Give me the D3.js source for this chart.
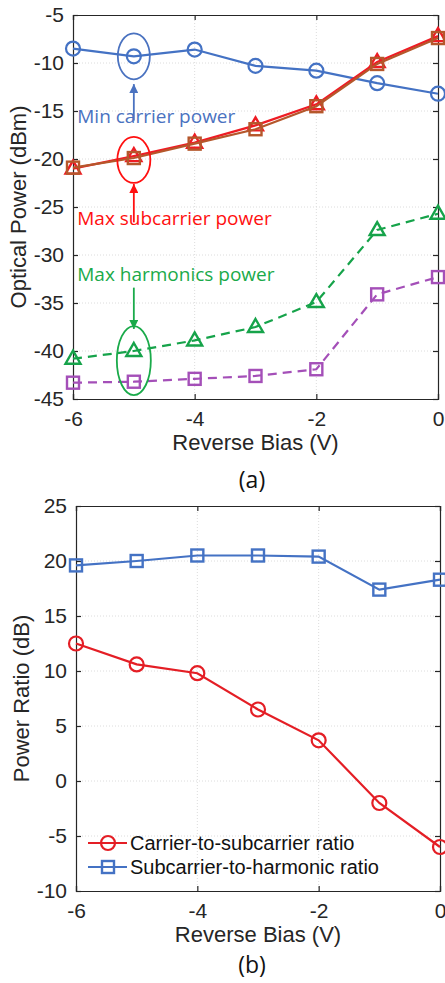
<!DOCTYPE html>
<html>
<head>
<meta charset="utf-8">
<script src="https://cdn.jsdelivr.net/npm/d3@7"></script>
<style>
  body { margin: 0; background: #fff; }
  svg { display: block; }
</style>
</head>
<body>
<div id="chart"></div>
<script>
// bias points, shared by both panels
const bias = [-6, -5, -4, -3, -2, -1, 0];

// panel (a): optical power (dBm)
const minCarrier = [-8.5, -9.3, -8.6, -10.3, -10.8, -12.1, -13.2];
const maxSubTri = [-21.0, -19.7, -18.3, -16.5, -14.3, -9.9, -7.2];
const maxSubSq = [-20.9, -19.9, -18.4, -16.9, -14.5, -10.1, -7.4];
const maxHarm = [-40.8, -40.0, -38.9, -37.5, -34.9, -27.4, -25.7];
const minHarm = [-43.3, -43.2, -42.9, -42.6, -41.9, -34.1, -32.3];

// panel (b): power ratio (dB)
const carrierToSub = [12.5, 10.6, 9.8, 6.5, 3.7, -2.0, -6.0];
const subToHarm = [19.6, 20.0, 20.5, 20.5, 20.4, 17.4, 18.3];

const xTicks = [-6, -4, -2, 0];
const yTicksA = [-45, -40, -35, -30, -25, -20, -15, -10, -5];
const yTicksB = [-10, -5, 0, 5, 10, 15, 20, 25];
const legendNames = ["Carrier-to-subcarrier ratio", "Subcarrier-to-harmonic ratio"];

const W = 445, H = 983;
const svg = d3.select("#chart").append("svg")
  .attr("width", W).attr("height", H);

const axisFont = "'Liberation Sans', Arial, sans-serif";
const noteFont = "'Open Sans', 'Noto Sans', sans-serif";
const ink = "#262626";
const plain = d => String(d);   // keep the ascii hyphen like the original

function drawFrame(x, y, yTicks, yLabel) {
  const [x0, x1] = x.range();
  const [y0, y1] = y.range();
  const g = svg.append("g");

  // dotted grid
  g.selectAll(".gx").data(xTicks.slice(1, -1)).enter().append("line")
    .attr("x1", d => x(d)).attr("x2", d => x(d))
    .attr("y1", y0).attr("y2", y1)
    .attr("stroke", "#dcdcdc").attr("stroke-width", 1).attr("stroke-dasharray", "1,2");
  g.selectAll(".gy").data(yTicks.slice(1, -1)).enter().append("line")
    .attr("x1", x0).attr("x2", x1)
    .attr("y1", d => y(d)).attr("y2", d => y(d))
    .attr("stroke", "#dcdcdc").attr("stroke-width", 1).attr("stroke-dasharray", "1,2");

  // axes, ticks pointing in
  const ax = g.append("g").attr("transform", `translate(0,${y0})`)
    .call(d3.axisBottom(x).tickValues(xTicks).tickSize(-5).tickPadding(12).tickFormat(plain));
  const axT = g.append("g").attr("transform", `translate(0,${y1})`)
    .call(d3.axisTop(x).tickValues(xTicks).tickSize(-5).tickFormat(""));
  const ay = g.append("g").attr("transform", `translate(${x0},0)`)
    .call(d3.axisLeft(y).tickValues(yTicks).tickSize(-5).tickPadding(9).tickFormat(plain));
  const ayR = g.append("g").attr("transform", `translate(${x1},0)`)
    .call(d3.axisRight(y).tickValues(yTicks).tickSize(-5).tickFormat(""));

  [ax, axT, ay, ayR].forEach(a => {
    a.select(".domain").attr("stroke", ink).attr("stroke-width", 1.2);
    a.selectAll(".tick line").attr("stroke", ink).attr("stroke-width", 1.2);
    a.selectAll("text").attr("fill", ink).style("font-family", axisFont).style("font-size", "21px");
  });

  g.append("text")
    .attr("x", (x0 + x1) / 2).attr("y", y0 + 51)
    .attr("text-anchor", "middle").attr("fill", ink)
    .style("font-family", axisFont).style("font-size", "22px")
    .text("Reverse Bias (V)");

  g.append("text")
    .attr("transform", `translate(${x0 - 47},${(y0 + y1) / 2}) rotate(-90)`)
    .attr("text-anchor", "middle").attr("fill", ink)
    .style("font-family", axisFont).style("font-size", "22px")
    .text(yLabel);
}

function drawSeries(x, y, vals, opt) {
  const pts = bias.map((b, i) => [b, vals[i]]);
  const line = d3.line().x(d => x(d[0])).y(d => y(d[1]));
  svg.append("path").datum(pts)
    .attr("d", line).attr("fill", "none")
    .attr("stroke", opt.color).attr("stroke-width", 2.2)
    .attr("stroke-dasharray", opt.dash || null);
  drawMarkers(svg, pts.map(d => [x(d[0]), y(d[1])]), opt);
}

function drawMarkers(parent, xy, opt) {
  const m = parent.selectAll(null).data(xy).enter();
  if (opt.marker === "circle") {
    m.append("circle").attr("cx", d => d[0]).attr("cy", d => d[1]).attr("r", 7)
      .attr("fill", "none").attr("stroke", opt.color).attr("stroke-width", 2.2);
  } else if (opt.marker === "square") {
    m.append("rect").attr("x", d => d[0] - 6).attr("y", d => d[1] - 6)
      .attr("width", 12).attr("height", 12)
      .attr("fill", "none").attr("stroke", opt.color).attr("stroke-width", 2.4);
  } else {
    m.append("path")
      .attr("d", d => `M${d[0]},${d[1] - 8}L${d[0] + 7.5},${d[1] + 5}L${d[0] - 7.5},${d[1] + 5}Z`)
      .attr("fill", "none").attr("stroke", opt.color).attr("stroke-width", 2.4);
  }
}

// ---------- panel (a)
const xa = d3.scaleLinear().domain([-6, 0]).range([73, 438]);
const ya = d3.scaleLinear().domain([-45, -5]).range([399, 15]);
drawFrame(xa, ya, yTicksA, "Optical Power (dBm)");

const blue = "#4472c4", red = "#ee1c24", brown = "#b5572b",
      green = "#16a34a", purple = "#a44fb8";

drawSeries(xa, ya, minHarm, { color: purple, marker: "square", dash: "9,6" });
drawSeries(xa, ya, maxHarm, { color: green, marker: "triangle", dash: "9,6" });
drawSeries(xa, ya, minCarrier, { color: blue, marker: "circle" });
drawSeries(xa, ya, maxSubTri, { color: red, marker: "triangle" });
drawSeries(xa, ya, maxSubSq, { color: brown, marker: "square" });

// annotations: ellipse around the -5 V point, arrow, caption
const notes = [
  { text: "Min carrier power", color: "#4a72c0", cx: -5, cy: -9.3, rx: 16, ry: 23,
    tx: -5.93, ty: -16.3, a1: -16.0, a2: -12.2 },
  { text: "Max subcarrier power", color: "#ff1010", cx: -5, cy: -20.1, rx: 16.5, ry: 23,
    tx: -5.93, ty: -26.9, a1: -26.6, a2: -22.6 },
  { text: "Max harmonics power", color: "#1aaa4a", cx: -5, cy: -41.0, rx: 17, ry: 34.5,
    tx: -5.93, ty: -32.7, a1: -33.4, a2: -37.7 }
];
const defs = svg.append("defs");
notes.forEach((n, i) => {
  defs.append("marker").attr("id", "ah" + i)
    .attr("viewBox", "0 0 10 10").attr("refX", 10).attr("refY", 5)
    .attr("markerWidth", 10).attr("markerHeight", 9).attr("markerUnits", "userSpaceOnUse")
    .attr("orient", "auto")
    .append("path").attr("d", "M0,0L10,5L0,10Z").attr("fill", n.color);
});
notes.forEach((n, i) => {
  svg.append("ellipse")
    .attr("cx", xa(n.cx)).attr("cy", ya(n.cy)).attr("rx", n.rx).attr("ry", n.ry)
    .attr("fill", "none").attr("stroke", n.color).attr("stroke-width", 1.8);
  svg.append("line")
    .attr("x1", xa(n.cx)).attr("x2", xa(n.cx))
    .attr("y1", ya(n.a1)).attr("y2", ya(n.a2))
    .attr("stroke", n.color).attr("stroke-width", 1.8)
    .attr("marker-end", `url(#ah${i})`);
  svg.append("text")
    .attr("x", xa(n.tx)).attr("y", ya(n.ty))
    .attr("fill", n.color)
    .style("font-family", noteFont).style("font-size", "19px")
    .text(n.text);
});

svg.append("text").attr("x", 252).attr("y", 488)
  .attr("text-anchor", "middle").attr("fill", "#111")
  .style("font-family", noteFont).style("font-size", "23px").text("(a)");

// ---------- panel (b)
const xb = d3.scaleLinear().domain([-6, 0]).range([76, 440]);
const yb = d3.scaleLinear().domain([-10, 25]).range([891, 506]);
drawFrame(xb, yb, yTicksB, "Power Ratio (dB)");

const redB = "#e41e25";
drawSeries(xb, yb, subToHarm, { color: blue, marker: "square" });
drawSeries(xb, yb, carrierToSub, { color: redB, marker: "circle" });

const legend = [
  { name: legendNames[0], color: redB, marker: "circle" },
  { name: legendNames[1], color: blue, marker: "square" }
];
legend.forEach((l, i) => {
  const ly = 843 + i * 24;
  svg.append("line").attr("x1", 88).attr("x2", 127).attr("y1", ly).attr("y2", ly)
    .attr("stroke", l.color).attr("stroke-width", 2.2);
  drawMarkers(svg, [[108, ly]], l);
  svg.append("text").attr("x", 130).attr("y", ly + 7)
    .attr("fill", "#111")
    .style("font-family", axisFont).style("font-size", "20px")
    .text(l.name);
});

svg.append("text").attr("x", 252).attr("y", 973)
  .attr("text-anchor", "middle").attr("fill", "#111")
  .style("font-family", noteFont).style("font-size", "23px").text("(b)");
</script>
</body>
</html>
